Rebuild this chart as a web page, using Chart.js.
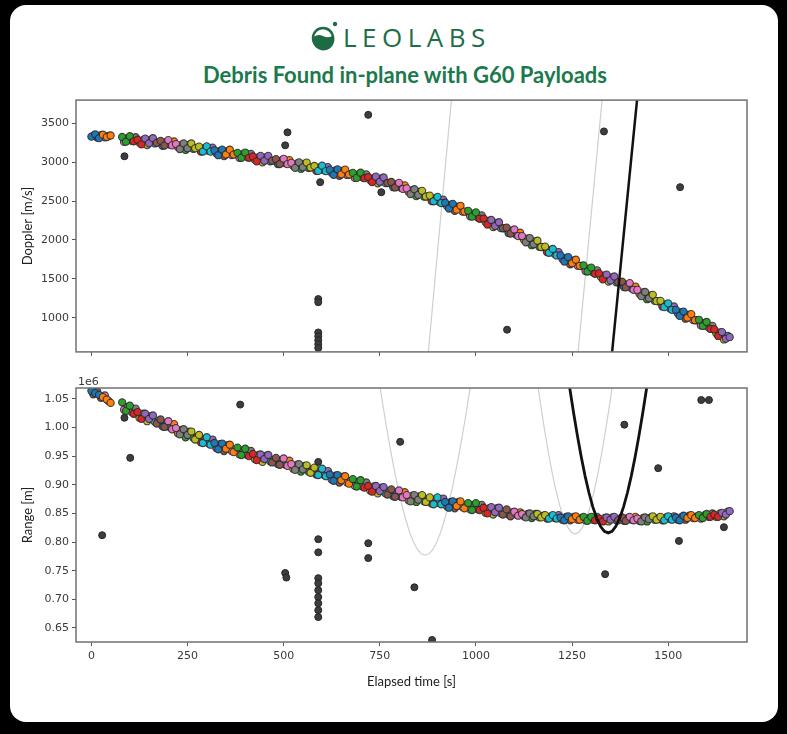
<!DOCTYPE html>
<html>
<head>
<meta charset="utf-8">
<script src="https://cdn.jsdelivr.net/npm/chart.js@4.4.1/dist/chart.umd.min.js"></script>
<style>
  html, body { margin: 0; padding: 0; background: #000; }
  body { width: 787px; height: 734px; position: relative; overflow: hidden; }
  .card { position: absolute; left: 10px; top: 5px; width: 768px; height: 717px; background: #fff; border-radius: 16px; }
  #header { position: absolute; left: 0; top: 0; }
  canvas { position: absolute; }
  #dopplerChart { left: 10px; top: 95px; }
  #rangeChart { left: 10px; top: 372px; }
</style>
</head>
<body>
<div class="card"></div>
<svg id="header" width="787" height="95">
  <circle cx="323" cy="38" r="10" fill="#fff" stroke="#1d6b45" stroke-width="2.5"/>
  <path d="M312.5 38 Q317 33 323 36 Q329 39 333.5 35 A11 11 0 1 1 312.5 38 Z" fill="#1d6b45"/>
  <circle cx="335" cy="24" r="2.2" fill="#1d6b45"/>
  <text x="343" y="47" font-family="'Open Sans', sans-serif" font-size="26" letter-spacing="5.5" fill="#1e6e48">LEOLABS</text>
  <text x="405" y="83" text-anchor="middle" font-family="Lato, sans-serif" font-weight="bold" font-size="22" fill="#1a7a4c">Debris Found in-plane with G60 Payloads</text>
</svg>
<canvas id="dopplerChart" width="760" height="262"></canvas>
<canvas id="rangeChart" width="760" height="320"></canvas>
<script>
// debris detections, pass A: elapsed time [s], doppler [m/s], range [1e6 m]
const bandTime = [
  0, 10, 20, 30, 40, 50,
  80, 90, 100, 110, 120, 130, 140, 150, 160, 170,
  180, 190, 200, 210, 220, 230, 240, 250, 260, 270,
  280, 290, 300, 310, 320, 330, 340, 350, 360, 370,
  380, 390, 400, 410, 420, 430, 440, 450, 460, 470,
  480, 490, 500, 510, 520, 530, 540, 550, 560, 570,
  580, 590, 600, 610, 620, 630, 640, 650, 660, 670,
  680, 690, 700, 710, 720, 730, 740, 750, 760, 770,
  780, 790, 800, 810, 820, 830, 840, 850, 860, 870,
  880, 890, 900, 910, 920, 930, 940, 950, 960, 970,
  980, 990, 1000, 1010, 1020, 1030, 1040, 1050, 1060, 1070,
  1080, 1090, 1100, 1110, 1120, 1130, 1140, 1150, 1160, 1170,
  1180, 1190, 1200, 1210, 1220, 1230, 1240, 1250, 1260, 1270,
  1280, 1290, 1300, 1310, 1320, 1330, 1340, 1350, 1360, 1370,
  1380, 1390, 1400, 1410, 1420, 1430, 1440, 1450, 1460, 1470,
  1480, 1490, 1500, 1510, 1520, 1530, 1540, 1550, 1560, 1570,
  1580, 1590, 1600, 1610, 1620, 1630, 1640, 1650, 1660
];
const bandDoppler = [
  3330, 3360, 3310, 3355, 3325, 3345,
  3325, 3265, 3335, 3270, 3290, 3230, 3305, 3245, 3310, 3250,
  3275, 3215, 3285, 3217, 3234, 3171, 3243, 3180, 3242, 3179,
  3201, 3138, 3205, 3137, 3154, 3091, 3163, 3100, 3162, 3099,
  3121, 3058, 3125, 3057, 3074, 3011, 3083, 3020, 3082, 3019,
  3041, 2978, 3045, 2976, 2992, 2928, 2999, 2935, 2996, 2932,
  2953, 2889, 2955, 2886, 2902, 2838, 2909, 2845, 2906, 2842,
  2863, 2799, 2865, 2795, 2810, 2745, 2815, 2750, 2804, 2733,
  2747, 2676, 2735, 2657, 2664, 2591, 2653, 2580, 2632, 2559,
  2571, 2498, 2555, 2475, 2480, 2405, 2465, 2390, 2440, 2365,
  2375, 2300, 2355, 2273, 2276, 2199, 2257, 2180, 2228, 2151,
  2159, 2082, 2135, 2050, 2050, 1970, 2025, 1945, 1990, 1910,
  1915, 1835, 1885, 1801, 1802, 1723, 1779, 1700, 1746, 1667,
  1673, 1594, 1645, 1565, 1570, 1495, 1555, 1480, 1530, 1455,
  1465, 1390, 1445, 1359, 1358, 1277, 1331, 1250, 1294, 1213,
  1217, 1136, 1185, 1101, 1102, 1023, 1079, 1000, 1046, 967,
  973, 894, 945, 855, 850, 765, 815, 730, 750
];
const bandRange = [
  1.064, 1.060, 1.057, 1.053, 1.049, 1.043,
  1.044, 1.029, 1.038, 1.024, 1.027, 1.015, 1.024, 1.015, 1.021, 1.007,
  1.014, 1.001, 1.011, 0.997, 0.999, 0.988, 0.997, 0.987, 0.993, 0.979,
  0.987, 0.973, 0.983, 0.970, 0.973, 0.962, 0.972, 0.963, 0.970, 0.957,
  0.965, 0.952, 0.963, 0.950, 0.954, 0.943, 0.953, 0.945, 0.952, 0.939,
  0.947, 0.935, 0.946, 0.933, 0.936, 0.926, 0.936, 0.927, 0.934, 0.921,
  0.930, 0.917, 0.928, 0.915, 0.918, 0.907, 0.917, 0.908, 0.915, 0.902,
  0.910, 0.897, 0.908, 0.895, 0.898, 0.888, 0.898, 0.889, 0.896, 0.883,
  0.892, 0.879, 0.890, 0.878, 0.882, 0.871, 0.882, 0.874, 0.882, 0.870,
  0.878, 0.866, 0.878, 0.866, 0.870, 0.860, 0.871, 0.863, 0.871, 0.859,
  0.868, 0.856, 0.868, 0.856, 0.860, 0.850, 0.861, 0.852, 0.860, 0.848,
  0.857, 0.845, 0.853, 0.846, 0.849, 0.843, 0.850, 0.845, 0.849, 0.843,
  0.847, 0.841, 0.847, 0.841, 0.843, 0.838, 0.845, 0.840, 0.845, 0.839,
  0.844, 0.837, 0.844, 0.838, 0.841, 0.836, 0.843, 0.839, 0.844, 0.838,
  0.843, 0.837, 0.844, 0.838, 0.841, 0.836, 0.843, 0.840, 0.845, 0.839,
  0.844, 0.838, 0.845, 0.839, 0.843, 0.838, 0.846, 0.842, 0.847, 0.842,
  0.847, 0.842, 0.849, 0.844, 0.848, 0.844, 0.851, 0.848, 0.854
];

// debris detections, pass B (interleaved with pass A)
const bandTime2 = [
  5, 15, 25, 35, 45,
  85, 95, 105, 115, 125, 135, 145, 155, 165, 175,
  185, 195, 205, 215, 225, 235, 245, 255, 265, 275,
  285, 295, 305, 315, 325, 335, 345, 355, 365, 375,
  385, 395, 405, 415, 425, 435, 445, 455, 465, 475,
  485, 495, 505, 515, 525, 535, 545, 555, 565, 575,
  585, 595, 605, 615, 625, 635, 645, 655, 665, 675,
  685, 695, 705, 715, 725, 735, 745, 755, 765, 775,
  785, 795, 805, 815, 825, 835, 845, 855, 865, 875,
  885, 895, 905, 915, 925, 935, 945, 955, 965, 975,
  985, 995, 1005, 1015, 1025, 1035, 1045, 1055, 1065, 1075,
  1085, 1095, 1105, 1115, 1125, 1135, 1145, 1155, 1165, 1175,
  1185, 1195, 1205, 1215, 1225, 1235, 1245, 1255, 1265, 1275,
  1285, 1295, 1305, 1315, 1325, 1335, 1345, 1355, 1365, 1375,
  1385, 1395, 1405, 1415, 1425, 1435, 1445, 1455, 1465, 1475,
  1485, 1495, 1505, 1515, 1525, 1535, 1545, 1555, 1565, 1575,
  1585, 1595, 1605, 1615, 1625, 1635, 1645, 1655
];
const bandDoppler2 = [
  3340, 3318, 3348, 3322, 3338,
  3262, 3312, 3277, 3322, 3252, 3287, 3222, 3292, 3242, 3257,
  3212, 3262, 3226, 3268, 3195, 3227, 3159, 3226, 3173, 3185,
  3137, 3184, 3146, 3188, 3115, 3147, 3079, 3146, 3093, 3105,
  3057, 3104, 3066, 3108, 3035, 3067, 2999, 3066, 3013, 3025,
  2977, 3024, 2986, 3027, 2953, 2984, 2915, 2981, 2927, 2938,
  2889, 2935, 2896, 2937, 2863, 2894, 2825, 2891, 2837, 2848,
  2799, 2845, 2805, 2845, 2770, 2800, 2730, 2792, 2731, 2735,
  2679, 2718, 2671, 2703, 2620, 2642, 2564, 2621, 2558, 2560,
  2502, 2539, 2490, 2520, 2435, 2455, 2375, 2430, 2365, 2365,
  2305, 2340, 2289, 2317, 2230, 2248, 2166, 2219, 2152, 2150,
  2088, 2121, 2068, 2093, 2003, 2018, 1933, 1983, 1913, 1908,
  1843, 1873, 1818, 1844, 1755, 1771, 1687, 1738, 1669, 1665,
  1601, 1632, 1580, 1610, 1525, 1545, 1465, 1520, 1455, 1455,
  1395, 1430, 1377, 1401, 1310, 1324, 1238, 1287, 1216, 1210,
  1144, 1173, 1118, 1144, 1055, 1071, 987, 1038, 969, 965,
  901, 932, 875, 895, 800, 810, 720, 765
];
const bandRange2 = [
  1.058, 1.063, 1.052, 1.056, 1.046,
  1.031, 1.036, 1.027, 1.033, 1.017, 1.024, 1.011, 1.020, 1.010, 1.012,
  1.002, 1.008, 1.000, 1.006, 0.990, 0.996, 0.983, 0.993, 0.982, 0.984,
  0.974, 0.980, 0.972, 0.979, 0.964, 0.971, 0.959, 0.969, 0.959, 0.962,
  0.953, 0.960, 0.952, 0.959, 0.945, 0.952, 0.940, 0.951, 0.941, 0.944,
  0.936, 0.943, 0.935, 0.942, 0.928, 0.935, 0.923, 0.933, 0.923, 0.927,
  0.918, 0.925, 0.917, 0.924, 0.909, 0.916, 0.904, 0.914, 0.904, 0.907,
  0.898, 0.905, 0.897, 0.904, 0.890, 0.897, 0.885, 0.895, 0.885, 0.889,
  0.880, 0.887, 0.879, 0.887, 0.873, 0.881, 0.870, 0.880, 0.871, 0.875,
  0.867, 0.875, 0.868, 0.876, 0.862, 0.870, 0.859, 0.870, 0.861, 0.865,
  0.857, 0.865, 0.857, 0.865, 0.851, 0.859, 0.848, 0.859, 0.850, 0.854,
  0.848, 0.852, 0.848, 0.852, 0.845, 0.849, 0.842, 0.849, 0.843, 0.846,
  0.841, 0.845, 0.842, 0.847, 0.839, 0.844, 0.838, 0.844, 0.839, 0.842,
  0.838, 0.842, 0.839, 0.844, 0.837, 0.842, 0.836, 0.843, 0.838, 0.841,
  0.837, 0.842, 0.839, 0.844, 0.837, 0.842, 0.836, 0.843, 0.839, 0.842,
  0.838, 0.843, 0.840, 0.845, 0.839, 0.844, 0.839, 0.846, 0.842, 0.845,
  0.841, 0.847, 0.844, 0.850, 0.844, 0.850, 0.845, 0.853
];

// stray detections (dark dots)
const dopplerOutTime = [86, 504, 510, 595, 720, 754, 590, 590, 590, 590, 590, 590, 590, 1081, 1333, 1531];
const dopplerOutValue = [3077, 3218, 3385, 2744, 3610, 2615, 1240, 1200, 810, 760, 710, 660, 610, 846, 3397, 2680];
const rangeOutTime = [28, 86, 101, 387, 504, 507, 590, 590, 590, 590, 590, 590, 590, 590, 590, 590,
  720, 720, 803, 840, 886, 1336, 1386, 1474, 1528, 1586, 1606, 1645];
const rangeOutValue = [0.812, 1.017, 0.947, 1.040, 0.746, 0.738, 0.940, 0.805, 0.782, 0.737, 0.728, 0.716, 0.704, 0.693, 0.681, 0.669,
  0.798, 0.772, 0.975, 0.721, 0.629, 0.744, 1.005, 0.929, 0.802, 1.048, 1.048, 0.826];

// G60 payload passes: doppler
const payloadDopplerTime = [1343, 1423];
const payloadDopplerValue = [0, 4000];
const grayADopplerTime = [866, 940];
const grayADopplerValue = [0, 4000];
const grayBDopplerTime = [1255, 1332];
const grayBDopplerValue = [0, 4000];

// G60 payload passes: range
const payloadRangeTime = [1234, 1244, 1254, 1264, 1274, 1284, 1294, 1304, 1314, 1324, 1334, 1344,
  1354, 1364, 1374, 1384, 1394, 1404, 1414, 1424, 1434, 1444, 1454];
const payloadRangeValue = [1.1149, 1.069, 1.0258, 0.9855, 0.9485, 0.9152, 0.8861, 0.8615, 0.8419, 0.8276, 0.8189, 0.816,
  0.8189, 0.8276, 0.8419, 0.8615, 0.8861, 0.9152, 0.9485, 0.9855, 1.0258, 1.069, 1.1149];
const grayARangeTime = [738, 748, 758, 768, 778, 788, 798, 808, 818, 828, 838, 848, 858, 868,
  878, 888, 898, 908, 918, 928, 938, 948, 958, 968, 978, 988, 998];
const grayARangeValue = [1.1266, 1.0820, 1.0393, 0.9987, 0.9606, 0.9251, 0.8926, 0.8634, 0.8380, 0.8165, 0.7995, 0.7871, 0.7795, 0.777,
  0.7795, 0.7871, 0.7995, 0.8165, 0.8380, 0.8634, 0.8926, 0.9251, 0.9606, 0.9987, 1.0393, 1.0820, 1.1266];
const grayBRangeTime = [1148, 1158, 1168, 1178, 1188, 1198, 1208, 1218, 1228, 1238, 1248, 1258,
  1268, 1278, 1288, 1298, 1308, 1318, 1328, 1338, 1348, 1358, 1368];
const grayBRangeValue = [1.1371, 1.0879, 1.0414, 0.9980, 0.9581, 0.9221, 0.8904, 0.8637, 0.8423, 0.8267, 0.8172, 0.814,
  0.8172, 0.8267, 0.8423, 0.8637, 0.8904, 0.9221, 0.9581, 0.9980, 1.0414, 1.0879, 1.1371];

// axes
const timeTicks = [0, 250, 500, 750, 1000, 1250, 1500];
const dopplerTicks = [1000, 1500, 2000, 2500, 3000, 3500];
const rangeTicks = [0.65, 0.70, 0.75, 0.80, 0.85, 0.90, 0.95, 1.00, 1.05];
const rangeTickLabels = ["0.65", "0.70", "0.75", "0.80", "0.85", "0.90", "0.95", "1.00", "1.05"];

const tab10 = ["#1f77b4", "#ff7f0e", "#2ca02c", "#d62728", "#9467bd",
  "#8c564b", "#e377c2", "#7f7f7f", "#bcbd22", "#17becf"];

const TICK_FONT = { family: "'DejaVu Sans', sans-serif", size: 11 };
const TITLE_FONT = { family: "Lato, sans-serif", size: 13 };

function pts(xs, ys) {
  return xs.map((x, i) => ({ x: x, y: ys[i] }));
}

const framePlugin = {
  id: "frame",
  afterDatasetsDraw(chart, args, opts) {
    const { ctx, chartArea: a } = chart;
    ctx.save();
    ctx.strokeStyle = "#707070";
    ctx.lineWidth = 1.5;
    ctx.strokeRect(a.left, a.top, a.right - a.left, a.bottom - a.top);
    if (opts.offsetText) {
      ctx.fillStyle = "#3a3a3a";
      ctx.font = "11px 'DejaVu Sans'";
      ctx.textAlign = "left";
      ctx.textBaseline = "alphabetic";
      ctx.fillText(opts.offsetText, a.left + 2, a.top - 3);
    }
    ctx.restore();
  }
};

function xAxis(showLabels, height, title) {
  return {
    type: "linear", min: -40, max: 1705,
    afterBuildTicks: s => { s.ticks = timeTicks.map(v => ({ value: v })); },
    afterFit: s => { s.height = height; s.paddingLeft = 0; s.paddingRight = 0; },
    grid: { drawOnChartArea: false, drawTicks: true, tickLength: 4, tickColor: "#555" },
    border: { display: false },
    ticks: {
      autoSkip: false, maxRotation: 0, padding: 4, font: TICK_FONT, color: "#3a3a3a",
      callback: v => showLabels ? String(v) : ""
    },
    title: title
      ? { display: true, text: title, font: TITLE_FONT, color: "#222", padding: { bottom: 2 } }
      : { display: false }
  };
}

function yAxis(min, max, tickVals, tickLabels, title) {
  return {
    type: "linear", min: min, max: max,
    afterBuildTicks: s => { s.ticks = tickVals.map(v => ({ value: v })); },
    afterFit: s => { s.width = 66; s.paddingTop = 0; s.paddingBottom = 0; },
    grid: { drawOnChartArea: false, drawTicks: true, tickLength: 4, tickColor: "#555" },
    border: { display: false },
    ticks: { autoSkip: false, padding: 3, font: TICK_FONT, color: "#3a3a3a", callback: (v, i) => tickLabels[i] },
    title: { display: true, text: title, font: TITLE_FONT, color: "#222", padding: { top: 10 } }
  };
}

function lineSet(xs, ys, color, width, order) {
  return {
    data: pts(xs, ys), showLine: true, borderColor: color, borderWidth: width,
    pointRadius: 0, tension: 0, order: order
  };
}

function bandSet(xs, ys, shift) {
  return {
    data: pts(xs, ys), pointRadius: 3.6, borderWidth: 1.1,
    borderColor: "rgba(40,40,40,0.85)",
    backgroundColor: c => tab10[(Math.floor(c.dataIndex / 3) + shift) % 10],
    order: 2
  };
}

function outlierSet(xs, ys) {
  return {
    data: pts(xs, ys), pointRadius: 3.5, borderWidth: 1,
    backgroundColor: "#3d3d3d", borderColor: "#262626", order: 1
  };
}

function baseOptions(padTop, scales, offsetText) {
  return {
    responsive: false, animation: false, devicePixelRatio: 1,
    layout: { padding: { left: 0, right: 23, top: padTop, bottom: 0 } },
    plugins: { legend: { display: false }, tooltip: { enabled: false }, frame: { offsetText: offsetText } },
    scales: scales
  };
}

new Chart(document.getElementById("dopplerChart"), {
  type: "scatter",
  data: {
    datasets: [
      lineSet(payloadDopplerTime, payloadDopplerValue, "#111", 2.5, 0),
      outlierSet(dopplerOutTime, dopplerOutValue),
      bandSet(bandTime, bandDoppler, 0),
      bandSet(bandTime2, bandDoppler2, 5),
      lineSet(grayADopplerTime, grayADopplerValue, "#cfcfcf", 1.2, 3),
      lineSet(grayBDopplerTime, grayBDopplerValue, "#cfcfcf", 1.2, 3)
    ]
  },
  options: baseOptions(5, {
    x: xAxis(false, 5, null),
    y: yAxis(560, 3800, dopplerTicks, dopplerTicks.map(String), "Doppler [m/s]")
  }, null),
  plugins: [framePlugin]
});

new Chart(document.getElementById("rangeChart"), {
  type: "scatter",
  data: {
    datasets: [
      lineSet(payloadRangeTime, payloadRangeValue, "#111", 2.8, 0),
      outlierSet(rangeOutTime, rangeOutValue),
      bandSet(bandTime, bandRange, 0),
      bandSet(bandTime2, bandRange2, 5),
      lineSet(grayARangeTime, grayARangeValue, "#cfcfcf", 1.2, 3),
      lineSet(grayBRangeTime, grayBRangeValue, "#cfcfcf", 1.2, 3)
    ]
  },
  options: baseOptions(16, {
    x: xAxis(true, 50, "Elapsed time [s]"),
    y: yAxis(0.6255, 1.069, rangeTicks, rangeTickLabels, "Range [m]")
  }, "1e6"),
  plugins: [framePlugin]
});
</script>
</body>
</html>
